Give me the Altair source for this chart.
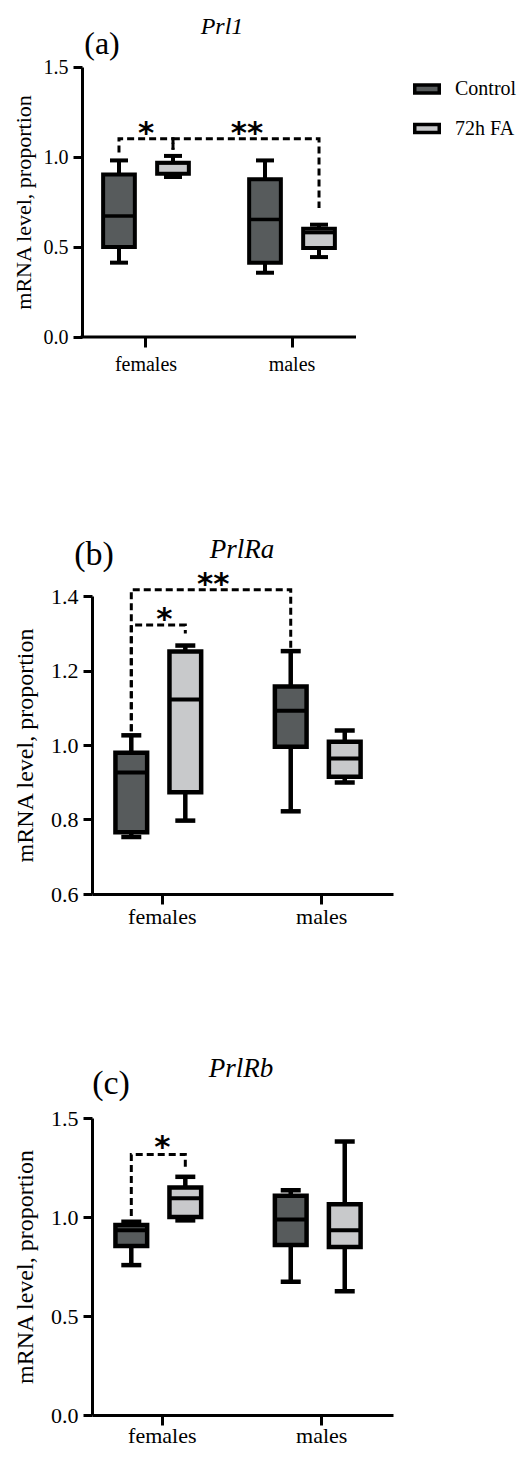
import altair as alt
import pandas as pd

# ---------------- data ----------------
sexes = ["females", "females", "males", "males"]
groups = ["Control", "72h FA", "Control", "72h FA"]

# panel (a) Prl1
a_lo = [0.413, 0.889, 0.357, 0.444]
a_q1 = [0.500, 0.907, 0.413, 0.494]
a_med = [0.672, 0.968, 0.653, 0.580]
a_q3 = [0.903, 0.968, 0.876, 0.602]
a_hi = [0.981, 1.006, 0.981, 0.624]

# panel (b) PrlRa
b_lo = [0.753, 0.797, 0.822, 0.899]
b_q1 = [0.766, 0.873, 0.995, 0.915]
b_med = [0.926, 1.122, 1.092, 0.964]
b_q3 = [0.979, 1.251, 1.157, 1.009]
b_hi = [1.026, 1.267, 1.252, 1.039]

# panel (c) PrlRb
c_lo = [0.757, 0.983, 0.673, 0.625]
c_q1 = [0.853, 1.000, 0.859, 0.848]
c_med = [0.933, 1.095, 0.988, 0.933]
c_q3 = [0.960, 1.149, 1.107, 1.064]
c_hi = [0.976, 1.203, 1.135, 1.381]

# significance brackets (id, sex, group, y)
a_br_id = [1, 1, 1, 1, 2, 2, 2, 2]
a_br_sex = ["females", "females", "females", "females", "females", "females", "males", "males"]
a_br_grp = ["Control", "Control", "72h FA", "72h FA", "72h FA", "72h FA", "72h FA", "72h FA"]
a_br_y = [1.025, 1.102, 1.102, 1.040, 1.040, 1.102, 1.102, 0.717]

b_br_id = [1, 1, 1, 1, 2, 2, 2, 2]
b_br_sex = ["females", "females", "males", "males", "females", "females", "females", "females"]
b_br_grp = ["Control", "Control", "Control", "Control", "Control", "Control", "72h FA", "72h FA"]
b_br_y = [1.037, 1.417, 1.417, 1.260, 1.037, 1.322, 1.322, 1.299]

c_br_id = [1, 1, 1, 1]
c_br_sex = ["females", "females", "females", "females"]
c_br_grp = ["Control", "Control", "72h FA", "72h FA"]
c_br_y = [1.005, 1.316, 1.316, 1.250]

# stars (text, anchor sex, y)
a_star_t = ["*", "**"]
a_star_sex = ["females", "males"]
a_star_y = [1.165, 1.165]
b_star_t = ["**", "*"]
b_star_sex = ["females", "females"]
b_star_y = [1.448, 1.355]
c_star_t = ["*"]
c_star_sex = ["females"]
c_star_y = [1.382]

SERIF = "Liberation Serif"
SANS = "DejaVu Sans"
COLORS = ["#575b5c", "#c8c9cb"]
GROUP_ORDER = ["Control", "72h FA"]
SEX_ORDER = ["females", "males"]


def box_df(lo, q1, med, q3, hi):
    return pd.DataFrame({"sex": sexes, "group": groups, "lo": lo, "q1": q1,
                         "med": med, "q3": q3, "hi": hi})


def br_df(ids, sx, gr, yv):
    return pd.DataFrame({"id": ids, "sex": sx, "group": gr, "y": yv,
                         "ord": list(range(len(ids)))})


def panel(df, br, stars, star_dx, ydom, yvals, W, H, xsc, xosc, fs, yaxis_offset,
          cap, boxw, sw, label, label_pos, gene, gene_pos, label_fs, gene_fs,
          title_pad, x_label_pad, x_domain):
    xs = alt.Scale(**xsc)
    xos = alt.Scale(**xosc)
    ys = alt.Scale(domain=ydom, nice=False, zero=False)
    yaxis = alt.Axis(values=yvals, format=".1f", grid=False, domainWidth=3,
                     domainColor="black", tickColor="black", tickWidth=3, tickSize=9,
                     labelFont=SERIF, labelFontSize=fs, labelColor="black", labelPadding=5,
                     title="mRNA level, proportion", titleFont=SERIF,
                     titleFontSize=fs + 2, titleFontWeight="normal", titleColor="black",
                     titlePadding=title_pad, offset=yaxis_offset)
    xaxis = alt.Axis(title=None, labelAngle=0, domain=x_domain, domainWidth=3,
                     domainColor="black", tickColor="black", tickWidth=3, tickSize=10,
                     labelFont=SERIF, labelFontSize=fs, labelColor="black",
                     labelPadding=x_label_pad, grid=False)
    X = alt.X("sex:N", scale=xs, axis=xaxis, sort=SEX_ORDER)
    XO = alt.XOffset("group:N", scale=xos, sort=GROUP_ORDER)
    base = alt.Chart(df).encode(x=X, xOffset=XO)
    whisk = base.mark_rule(strokeWidth=sw, color="black").encode(
        y=alt.Y("lo:Q", scale=ys, axis=yaxis), y2="hi:Q")
    cap_lo = base.mark_tick(size=cap, thickness=sw, color="black", opacity=1).encode(y="lo:Q")
    cap_hi = base.mark_tick(size=cap, thickness=sw, color="black", opacity=1).encode(y="hi:Q")
    box = base.mark_bar(stroke="black", strokeWidth=sw, opacity=1).encode(
        y="q1:Q", y2="q3:Q",
        fill=alt.Fill("group:N", scale=alt.Scale(domain=GROUP_ORDER, range=COLORS),
                      sort=GROUP_ORDER, title=None))
    med = base.mark_tick(size=boxw, thickness=sw - 0.5, color="black", opacity=1).encode(y="med:Q")
    brl = alt.Chart(br).mark_line(strokeDash=[7, 4], strokeWidth=3, color="black").encode(
        x=X, xOffset=XO, y="y:Q", detail="id:N", order="ord:Q")
    layers = [whisk, cap_lo, cap_hi, box, med, brl]
    for (t, sx, yv), dx in zip(stars, star_dx):
        sd = pd.DataFrame({"t": [t], "sex": [sx], "y": [yv]})
        layers.append(alt.Chart(sd).mark_text(font=SANS, fontWeight="bold", fontSize=31,
                                              baseline="alphabetic", align="center",
                                              dx=dx, dy=16, color="black").encode(
            x=X, y="y:Q", text="t:N"))
    ttl = pd.DataFrame({"t": [label]})
    layers.append(alt.Chart(ttl).mark_text(font=SERIF, fontSize=label_fs, align="center",
                                           baseline="middle", color="black").encode(
        x=alt.value(label_pos[0]), y=alt.value(label_pos[1]), text="t:N"))
    gd = pd.DataFrame({"t": [gene]})
    layers.append(alt.Chart(gd).mark_text(font=SERIF, fontSize=gene_fs, fontStyle="italic",
                                          align="center", baseline="middle",
                                          color="black").encode(
        x=alt.value(gene_pos[0]), y=alt.value(gene_pos[1]), text="t:N"))
    if not x_domain:
        layers.append(alt.Chart(pd.DataFrame({"k": [0]})).mark_rule(
            strokeWidth=3, color="black").encode(
            x=alt.value(yaxis_offset * -1 - 1.5), x2=alt.value(W), y=alt.value(H)))
    return alt.layer(*layers).properties(width=W, height=H)


dfa = box_df(a_lo, a_q1, a_med, a_q3, a_hi)
dfb = box_df(b_lo, b_q1, b_med, b_q3, b_hi)
dfc = box_df(c_lo, c_q1, c_med, c_q3, c_hi)

pa = panel(dfa, br_df(a_br_id, a_br_sex, a_br_grp, a_br_y),
           list(zip(a_star_t, a_star_sex, a_star_y)), [0, -45],
           [0, 1.5], [0, 0.5, 1.0, 1.5], 264, 270,
           dict(paddingInner=0.4, paddingOuter=0.104, align=0.3355),
           dict(paddingInner=0.413, paddingOuter=0.0175),
           20, 10, 18, 31.7, 4, "(a)", (10, -23), "Prl1", (130, -40), 32, 24,
           8, 7, False)

pb = panel(dfb, br_df(b_br_id, b_br_sex, b_br_grp, b_br_y),
           list(zip(b_star_t, b_star_sex, b_star_y)), [51, 2],
           [0.6, 1.4], [0.6, 0.8, 1.0, 1.2, 1.4], 301, 298,
           dict(paddingInner=0.4, paddingOuter=0.144, align=0.49),
           dict(paddingInner=0.431, paddingOuter=0.02),
           22, 0, 20, 33.8, 4.5, "(b)", (2, -41), "PrlRa", (150, -46), 34, 27,
           13, 2, True)

pc = panel(dfc, br_df(c_br_id, c_br_sex, c_br_grp, c_br_y),
           list(zip(c_star_t, c_star_sex, c_star_y)), [0],
           [0, 1.5], [0, 0.5, 1.0, 1.5], 301, 297,
           dict(paddingInner=0.4, paddingOuter=0.144, align=0.49),
           dict(paddingInner=0.431, paddingOuter=0.02),
           22, 0, 20, 33.8, 4.5, "(c)", (19, -34), "PrlRb", (149, -49), 34, 27,
           13, 0, True)

inner = alt.vconcat(pb, pc, spacing=224, bounds="flush")
chart = alt.vconcat(pa, inner, spacing=259, bounds="flush").properties(
    padding={"left": 4, "top": 7, "right": 0, "bottom": 0}
).configure_view(stroke=None).configure_legend(
    orient="none", legendX=321, legendY=8, title=None, padding=0,
    symbolType="M-1,-0.32L1,-0.32L1,0.32L-1,0.32Z", symbolSize=600,
    symbolStrokeColor="black", symbolStrokeWidth=3.5, symbolOpacity=1,
    labelFont=SERIF, labelFontSize=20, labelColor="black", labelOffset=14,
    rowPadding=14.5
)

chart.save("out.html", embed_options={"renderer": "svg", "actions": False})
